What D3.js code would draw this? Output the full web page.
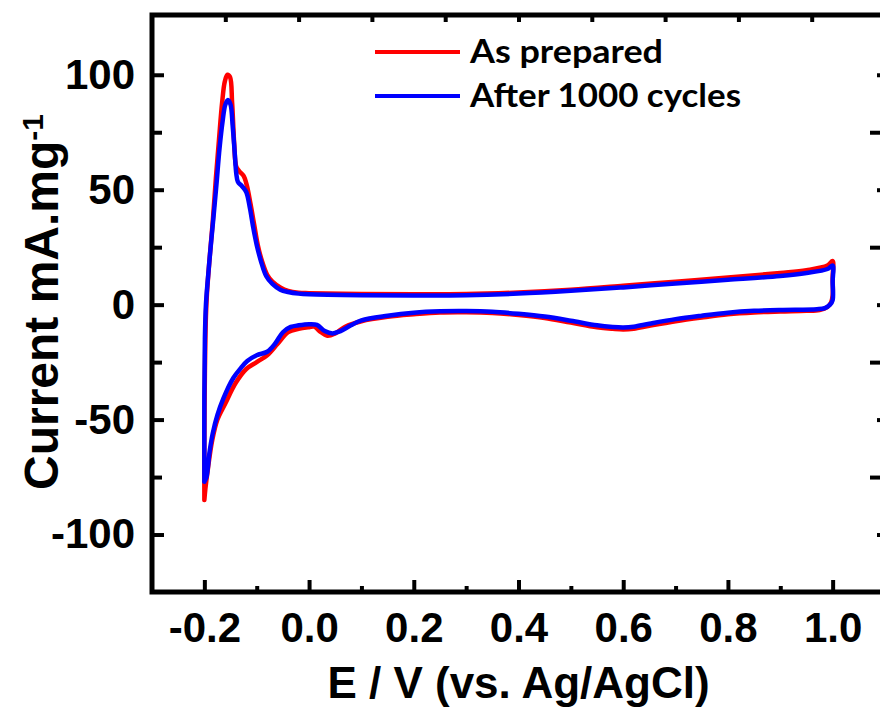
<!DOCTYPE html>
<html>
<head>
<meta charset="utf-8">
<script src="https://cdn.jsdelivr.net/npm/d3@7/dist/d3.min.js"></script>
<style>
  html, body { margin: 0; padding: 0; background: #fff; overflow: hidden; }
  svg { display: block; }
</style>
</head>
<body>
<svg id="chart" width="880" height="709"></svg>
<script>
// ---- Data ----
// As prepared: forward (anodic) scan then reverse scan
const asPreparedE = [
  -0.200,-0.200,-0.199,-0.197,-0.195,-0.190,-0.184,-0.178,-0.172,-0.166,-0.161,-0.156,-0.151,-0.147,-0.143,-0.139,-0.133,-0.125,-0.119,-0.112,-0.105,-0.098,-0.090,-0.080,-0.070,-0.055,-0.040,-0.020,0.000,0.10,0.20,0.30,0.40,0.50,0.60,0.70,0.80,0.90,0.95,0.99,1.000,
  1.000,1.000,0.997,0.990,0.975,0.95,0.90,0.85,0.80,0.75,0.70,0.65,0.62,0.60,0.58,0.55,0.50,0.45,0.40,0.35,0.30,0.25,0.20,0.15,0.10,0.07,0.05,0.035,0.02,0.01,0.000,-0.02,-0.04,-0.06,-0.08,-0.10,-0.12,-0.14,-0.16,-0.175,-0.185,-0.193,-0.198,-0.200
];
const asPreparedI = [
  -85,-60,-30,-5,5,20,36,55,72,88,97,100,99,88,70,60,58,56,52,44,35,26,19,13,10,7.5,6,5.2,5,4.6,4.5,4.6,5.3,6.5,8.2,10,11.8,13.8,15,17,19,
  12,4,1,-1,-2.3,-2.7,-3,-3.4,-4.2,-5.6,-7.2,-9.2,-10.5,-10.8,-10.5,-9.8,-7.8,-5.8,-4.5,-3.6,-3.3,-3.4,-4.2,-5.3,-7.2,-9.5,-12.5,-13.5,-11.5,-9.6,-9.8,-10.5,-12,-17,-22,-25,-28,-34,-43,-50,-59,-71,-80,-85
];
// After 1000 cycles
const after1000E = [
  -0.200,-0.200,-0.199,-0.197,-0.193,-0.188,-0.183,-0.177,-0.171,-0.165,-0.160,-0.155,-0.150,-0.146,-0.142,-0.139,-0.136,-0.128,-0.120,-0.113,-0.107,-0.100,-0.092,-0.082,-0.070,-0.055,-0.040,-0.020,0.000,0.10,0.20,0.30,0.40,0.50,0.60,0.70,0.80,0.90,0.95,0.99,1.000,
  1.000,1.000,0.995,0.985,0.97,0.90,0.85,0.80,0.75,0.70,0.65,0.62,0.60,0.58,0.55,0.50,0.45,0.40,0.35,0.30,0.25,0.20,0.15,0.10,0.08,0.06,0.045,0.03,0.015,0.000,-0.02,-0.035,-0.05,-0.065,-0.08,-0.10,-0.118,-0.13,-0.145,-0.164,-0.175,-0.184,-0.190,-0.196,-0.200
];
const after1000I = [
  -77,-40,-15,0,12,25,37,52,68,80,87,89,87,78,66,57,53.5,51.5,49,42,34,26,19,12.5,9,6.5,5.5,4.8,4.5,4.1,4,4.1,4.8,6,7.5,9.2,10.8,12.5,13.8,15.5,17,
  10,2,0,-1.5,-2,-2.3,-2.7,-3.5,-4.8,-6.3,-8.3,-9.6,-9.9,-9.7,-9,-7,-5.2,-4,-3.1,-2.8,-2.9,-3.5,-4.8,-6.8,-9,-11.5,-12.5,-11.5,-8.8,-8.5,-9,-9.7,-12,-17,-20.5,-22,-24.5,-27.5,-32,-41,-48,-56,-64,-75,-77
];

const seriesNames = ["As prepared", "After 1000 cycles"];
const seriesColors = ["#ff0000", "#0000ff"];

const xMajorTicks = [-0.2, 0.0, 0.2, 0.4, 0.6, 0.8, 1.0];
const xMinorTicks = [-0.1, 0.1, 0.3, 0.5, 0.7, 0.9];
const yMajorTicks = [-100, -50, 0, 50, 100];
const yMinorTicks = [-75, -25, 25, 75];
const topTicks = [0.1, 0.2, 0.3, 0.4, 0.5, 0.6, 0.7, 0.8, 0.9];

const xTitle = "E / V (vs. Ag/AgCl)";
const yTitle = "Current mA.mg";
const yTitleSup = "-1";

// ---- Layout ----
const pL = 152, pR = 885, pT = 15, pB = 592;
const svg = d3.select("#chart");

const x = d3.scaleLinear().domain([-0.3, 1.1]).range([pL, pR]);
const y = d3.scaleLinear().domain([-125, 126]).range([pB, pT]);
const xTop = d3.scaleLinear().domain([0, 1]).range([pL, pR]);

const font = "'Liberation Sans', Arial, sans-serif";
const hy = f => d => f(d).replace("\u2212", "-");

// Curves
const line = d3.line()
  .x(d => x(d[0]))
  .y(d => y(d[1]))
  .curve(d3.curveCatmullRom.alpha(0.5));

const series = [
  asPreparedE.map((e, i) => [e, asPreparedI[i]]),
  after1000E.map((e, i) => [e, after1000I[i]])
];

svg.append("clipPath").attr("id", "clip")
  .append("rect").attr("x", pL).attr("y", pT).attr("width", pR - pL).attr("height", pB - pT);

svg.append("g").attr("clip-path", "url(#clip)")
  .selectAll("path.series")
  .data(series)
  .join("path")
  .attr("class", "series")
  .attr("d", line)
  .attr("fill", "none")
  .attr("stroke", (d, i) => seriesColors[i])
  .attr("stroke-width", 4.5)
  .attr("stroke-linejoin", "round")
  .attr("stroke-linecap", "round");

function styleAxis(g) {
  g.select(".domain").remove();
  g.selectAll(".tick line").attr("stroke", "#000").attr("stroke-width", 4);
  g.selectAll(".tick text")
    .attr("fill", "#000")
    .style("font-family", font)
    .style("font-weight", "bold")
    .style("font-size", "42px");
}

// Bottom axis
svg.append("g").attr("transform", `translate(0,${pB})`)
  .call(d3.axisBottom(x).tickValues(xMajorTicks).tickSize(-12).tickPadding(20)
    .tickFormat(hy(d3.format(".1f"))))
  .call(styleAxis);
svg.append("g").attr("transform", `translate(0,${pB})`)
  .call(d3.axisBottom(x).tickValues(xMinorTicks).tickSize(-6).tickFormat(""))
  .call(styleAxis);

// Left axis
svg.append("g").attr("transform", `translate(${pL},0)`)
  .call(d3.axisLeft(y).tickValues(yMajorTicks).tickSize(-12).tickPadding(17)
    .tickFormat(hy(d3.format("d"))))
  .call(styleAxis);
svg.append("g").attr("transform", `translate(${pL},0)`)
  .call(d3.axisLeft(y).tickValues(yMinorTicks).tickSize(-10).tickFormat(""))
  .call(styleAxis);

// Top axis
svg.append("g").attr("transform", `translate(0,${pT})`)
  .call(d3.axisTop(xTop).tickValues(topTicks).tickSize(-7).tickFormat(""))
  .call(styleAxis);

// Right axis
svg.append("g").attr("transform", `translate(${pR},0)`)
  .call(d3.axisRight(y).tickValues(yMinorTicks).tickSize(-15).tickFormat(""))
  .call(styleAxis);
svg.append("g").attr("transform", `translate(${pR},0)`)
  .call(d3.axisRight(y).tickValues(yMajorTicks).tickSize(-8).tickFormat(""))
  .call(styleAxis);

// Frame
svg.append("rect")
  .attr("x", pL).attr("y", pT)
  .attr("width", pR - pL).attr("height", pB - pT)
  .attr("fill", "none").attr("stroke", "#000").attr("stroke-width", 5);

// Axis titles
svg.append("text")
  .attr("x", (pL + pR) / 2).attr("y", 698)
  .attr("text-anchor", "middle")
  .style("font-family", font).style("font-weight", "bold").style("font-size", "44px")
  .text(xTitle);

const yt = svg.append("text")
  .attr("transform", "translate(58,302) rotate(-90)")
  .attr("text-anchor", "middle")
  .style("font-family", font).style("font-weight", "bold").style("font-size", "48px");
yt.append("tspan").text(yTitle);
yt.append("tspan").attr("dy", "-0.5em").style("font-size", "30px").text(yTitleSup);

// Legend
const legend = svg.append("g");
const legendRows = seriesNames.map((n, i) => ({ name: n, color: seriesColors[i], i }));
const legendY = d3.scalePoint().domain(seriesNames).range([52, 96]);
const legendWidths = [193, 271];
legend.selectAll("line")
  .data(legendRows).join("line")
  .attr("x1", 375).attr("x2", 460)
  .attr("y1", d => legendY(d.name)).attr("y2", d => legendY(d.name))
  .attr("stroke", d => d.color).attr("stroke-width", 4);
legend.selectAll("text")
  .data(legendRows).join("text")
  .attr("x", 470).attr("y", d => legendY(d.name) + 11)
  .attr("textLength", d => legendWidths[d.i])
  .attr("lengthAdjust", "spacingAndGlyphs")
  .style("font-family", "Lato, 'Open Sans', sans-serif")
  .style("font-weight", "bold").style("font-size", "33px")
  .text(d => d.name);
</script>
</body>
</html>
